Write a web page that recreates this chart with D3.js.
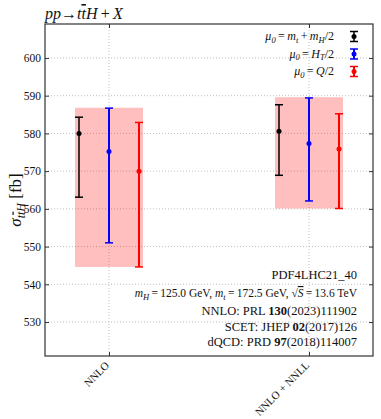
<!DOCTYPE html>
<html>
<head>
<meta charset="utf-8">
<script src="https://cdn.jsdelivr.net/npm/d3@7"></script>
<style>
  body { margin: 0; background: #fff; }
  svg text { font-family: 'Liberation Serif', 'Times New Roman', serif; fill: #111; }
  .it { font-style: italic; }
</style>
</head>
<body>
<div id="chart"></div>
<script>
const categories = ['NNLO', 'NNLO + NNLL']
const seriesNames = ['mtmh', 'ht', 'q']
const seriesColors = ['#000000', '#0000ff', '#ff0000']
const seriesOffsets = [-0.15, 0, 0.15]

const centralMtMh = [580.0, 580.6]
const lowMtMh = [563.1, 568.9]
const highMtMh = [584.3, 587.6]

const centralHt = [575.2, 577.3]
const lowHt = [551.0, 562.1]
const highHt = [586.7, 589.4]

const centralQ = [570.0, 575.9]
const lowQ = [544.6, 560.1]
const highQ = [582.9, 585.2]

const bandLow = [544.6, 560.1]
const bandHigh = [586.8, 589.6]

const yTicks = [530, 540, 550, 560, 570, 580, 590, 600]

const width = 381
const height = 419
const margin = { top: 24, right: 8, bottom: 63, left: 45 }
const innerW = width - margin.left - margin.right
const innerH = height - margin.top - margin.bottom

const svg = d3.select('#chart').append('svg')
  .attr('width', width)
  .attr('height', height)

const g = svg.append('g')
  .attr('transform', `translate(${margin.left},${margin.top})`)

const x = d3.scaleLinear().domain([-0.32, 1.32]).range([0, innerW])
const y = d3.scaleLinear().domain([521, 609]).range([innerH, 0])

/* grid */
g.append('g').selectAll('line.hgrid')
  .data(yTicks)
  .enter().append('line')
  .attr('x1', 0).attr('x2', innerW)
  .attr('y1', d => y(d)).attr('y2', d => y(d))
  .attr('stroke', '#b0b0b0').attr('stroke-width', 0.8)
  .attr('stroke-dasharray', '1,2')

g.append('g').selectAll('line.vgrid')
  .data(categories)
  .enter().append('line')
  .attr('x1', (d, i) => x(i)).attr('x2', (d, i) => x(i))
  .attr('y1', 0).attr('y2', innerH)
  .attr('stroke', '#b0b0b0').attr('stroke-width', 0.8)
  .attr('stroke-dasharray', '1,2')

/* envelope bands */
g.append('g').selectAll('rect')
  .data(categories)
  .enter().append('rect')
  .attr('x', (d, i) => x(i - 0.17))
  .attr('width', x(0.17) - x(-0.17))
  .attr('y', (d, i) => y(bandHigh[i]))
  .attr('height', (d, i) => y(bandLow[i]) - y(bandHigh[i]))
  .attr('fill', '#ff0000')
  .attr('fill-opacity', 0.25)

/* error bars */
const series = [
  { c: centralMtMh, lo: lowMtMh, hi: highMtMh },
  { c: centralHt, lo: lowHt, hi: highHt },
  { c: centralQ, lo: lowQ, hi: highQ }
]

series.forEach((s, k) => {
  const color = seriesColors[k]
  const lw = k === 0 ? 1.5 : 2
  const pts = categories.map((d, i) => ({ xv: i + seriesOffsets[k], c: s.c[i], lo: s.lo[i], hi: s.hi[i] }))
  const sg = g.append('g').attr('class', seriesNames[k])

  sg.selectAll('line.bar').data(pts).enter().append('line')
    .attr('x1', d => x(d.xv)).attr('x2', d => x(d.xv))
    .attr('y1', d => y(d.lo)).attr('y2', d => y(d.hi))
    .attr('stroke', color).attr('stroke-width', lw)

  sg.selectAll('line.caphi').data(pts).enter().append('line')
    .attr('x1', d => x(d.xv) - 4).attr('x2', d => x(d.xv) + 4)
    .attr('y1', d => y(d.hi)).attr('y2', d => y(d.hi))
    .attr('stroke', color).attr('stroke-width', 1.5)

  sg.selectAll('line.caplo').data(pts).enter().append('line')
    .attr('x1', d => x(d.xv) - 4).attr('x2', d => x(d.xv) + 4)
    .attr('y1', d => y(d.lo)).attr('y2', d => y(d.lo))
    .attr('stroke', color).attr('stroke-width', 1.5)

  sg.selectAll('circle').data(pts).enter().append('circle')
    .attr('cx', d => x(d.xv)).attr('cy', d => y(d.c))
    .attr('r', 2.5)
    .attr('fill', color)
})

/* axes frame and ticks */
const axisColor = '#333'
g.append('rect')
  .attr('width', innerW).attr('height', innerH)
  .attr('fill', 'none').attr('stroke', axisColor).attr('stroke-width', 1.2)

const yLeft = g.append('g').call(d3.axisLeft(y).tickValues(yTicks).tickSizeInner(-4).tickSizeOuter(0).tickPadding(4))
yLeft.select('.domain').remove()
yLeft.selectAll('line').attr('stroke', axisColor)
yLeft.selectAll('text').style('font-size', '11.5px').attr('fill', '#111')

const yRight = g.append('g').attr('transform', `translate(${innerW},0)`)
  .call(d3.axisRight(y).tickValues(yTicks).tickSizeInner(-4).tickSizeOuter(0).tickFormat(''))
yRight.select('.domain').remove()
yRight.selectAll('line').attr('stroke', axisColor)

const xBottom = g.append('g').attr('transform', `translate(0,${innerH})`)
  .call(d3.axisBottom(x).tickValues([0, 1]).tickSizeInner(-4).tickSizeOuter(0).tickFormat(''))
xBottom.select('.domain').remove()
xBottom.selectAll('line').attr('stroke', axisColor)

const xTop = g.append('g')
  .call(d3.axisTop(x).tickValues([0, 1]).tickSizeInner(-4).tickSizeOuter(0).tickFormat(''))
xTop.select('.domain').remove()
xTop.selectAll('line').attr('stroke', axisColor)

g.append('g').selectAll('text')
  .data(categories)
  .enter().append('text')
  .attr('transform', (d, i) => `translate(${x(i) + 1},${innerH + 10}) rotate(-45)`)
  .attr('text-anchor', 'end')
  .style('font-size', '11px')
  .text(d => d)

/* title */
const title = svg.append('text')
  .attr('x', margin.left)
  .attr('y', 19)
  .style('font-size', '16px')
title.append('tspan').attr('class', 'it').text('pp')
title.append('tspan').text('→')
title.append('tspan').attr('class', 'it').text('t')
title.append('tspan').attr('class', 'it').style('text-decoration', 'overline').text('t')
title.append('tspan').attr('class', 'it').text('H')
title.append('tspan').text('\u2009+\u2009')
title.append('tspan').attr('class', 'it').text('X')

/* y label */
const ylab = svg.append('text')
  .attr('transform', 'translate(21,200) rotate(-90)')
  .attr('text-anchor', 'middle')
  .style('font-size', '17px')
ylab.append('tspan').attr('class', 'it').text('σ')
ylab.append('tspan').attr('class', 'it').attr('dy', 3.5).style('font-size', '12px').text('t')
ylab.append('tspan').attr('class', 'it').style('font-size', '12px').style('text-decoration', 'overline').text('t')
ylab.append('tspan').attr('class', 'it').style('font-size', '12px').text('H')
ylab.append('tspan').attr('dy', -3.5).text(' [fb]')

/* legend */
const legendRows = [
  [['μ', 'it'], ['0', 'sub'], ['\u2009=\u2009', ''], ['m', 'it'], ['t', 'sub'], ['\u2009+\u2009', ''], ['m', 'it'], ['H', 'sub'], ['/2', '']],
  [['μ', 'it'], ['0', 'sub'], ['\u2009=\u2009', ''], ['H', 'it'], ['T', 'sub'], ['/2', '']],
  [['μ', 'it'], ['0', 'sub'], ['\u2009=\u2009', ''], ['Q', 'it'], ['/2', '']]
]
const legendY = [40, 57.5, 75]

legendRows.forEach((row, k) => {
  const t = svg.append('text')
    .attr('x', 334).attr('y', legendY[k])
    .attr('text-anchor', 'end')
    .style('font-size', '12px')
  let sub = false
  row.forEach(([s, cls]) => {
    const ts = t.append('tspan').text(s)
    if (cls === 'sub') {
      ts.attr('class', 'it').style('font-size', '8.5px')
      if (!sub) ts.attr('dy', 2.5)
      sub = true
    } else {
      if (cls === 'it') ts.attr('class', 'it')
      if (sub) ts.attr('dy', -2.5)
      sub = false
    }
  })
  const cx = 354
  const cy = legendY[k] - 3.5
  const lg = svg.append('g')
  lg.append('line').attr('x1', cx).attr('x2', cx).attr('y1', cy - 5).attr('y2', cy + 5)
    .attr('stroke', seriesColors[k]).attr('stroke-width', k === 0 ? 1.5 : 2)
  ;[cy - 5, cy + 5].forEach(yy => {
    lg.append('line').attr('x1', cx - 4).attr('x2', cx + 4).attr('y1', yy).attr('y2', yy)
      .attr('stroke', seriesColors[k]).attr('stroke-width', 1.5)
  })
  lg.append('circle').attr('cx', cx).attr('cy', cy).attr('r', 2.5).attr('fill', seriesColors[k])
})

/* annotation block */
const noteX = 357
const noteSize = '12.5px'
svg.append('text').attr('x', noteX).attr('y', 279).attr('text-anchor', 'end')
  .style('font-size', noteSize).text('PDF4LHC21_40')

const params = svg.append('text').attr('x', noteX).attr('y', 297).attr('text-anchor', 'end')
  .style('font-size', '11.5px')
params.append('tspan').attr('class', 'it').text('m')
params.append('tspan').attr('class', 'it').attr('dy', 2.5).style('font-size', '8.5px').text('H')
params.append('tspan').attr('dy', -2.5).text('\u2009=\u2009125.0 GeV, ')
params.append('tspan').attr('class', 'it').text('m')
params.append('tspan').attr('class', 'it').attr('dy', 2.5).style('font-size', '8.5px').text('t')
params.append('tspan').attr('dy', -2.5).text('\u2009=\u2009172.5 GeV, √')
params.append('tspan').attr('class', 'it').style('text-decoration', 'overline').text('S')
params.append('tspan').text('\u2009=\u200913.6 TeV')

const refs = [
  ['NNLO: PRL ', '130', '(2023)111902', 315],
  ['SCET: JHEP ', '02', '(2017)126', 330.5],
  ['dQCD: PRD ', '97', '(2018)114007', 346]
]
refs.forEach(([a, b, c, yy]) => {
  const t = svg.append('text').attr('x', noteX).attr('y', yy).attr('text-anchor', 'end')
    .style('font-size', noteSize)
  t.append('tspan').text(a)
  t.append('tspan').style('font-weight', 'bold').text(b)
  t.append('tspan').text(c)
})
</script>
</body>
</html>
